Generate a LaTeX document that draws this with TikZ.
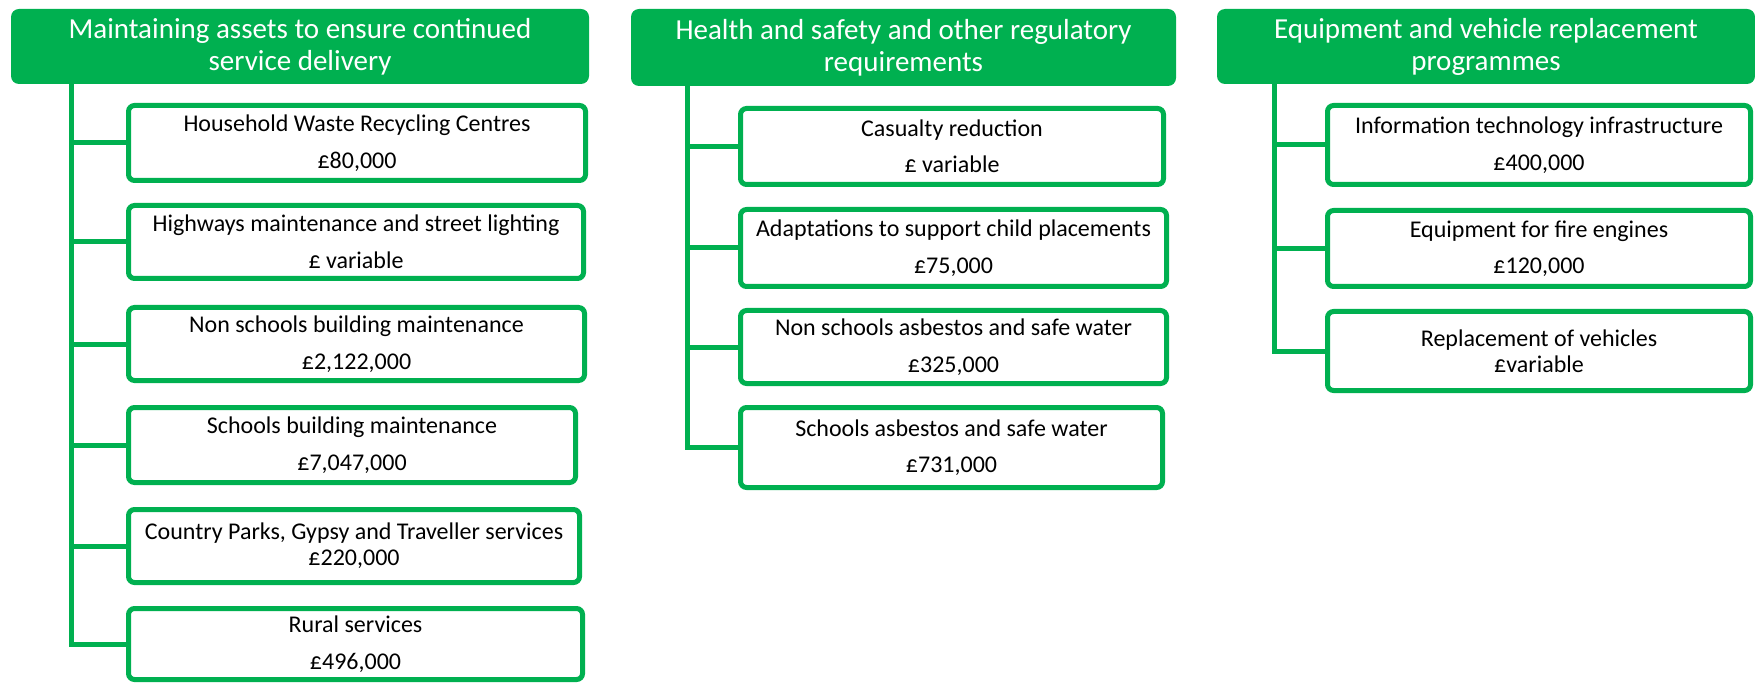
\documentclass[tikz,border=0pt]{standalone}
\usepackage{fontspec}
\setmainfont{Carlito}
\definecolor{hgreen}{HTML}{00B050}
\begin{document}
\begin{tikzpicture}[x=1pt,y=-1pt,
  head/.style={fill=hgreen, rounded corners=8pt, text=white,
    font=\fontsize{29}{32}\selectfont, align=center, inner sep=0pt},
  item/.style={draw=hgreen, line width=5pt, rounded corners=6pt, fill=white,
    font=\fontsize{24}{36.5}\selectfont, align=center, inner sep=0pt},
  tight/.style={font=\fontsize{24}{26.3}\selectfont},
  link/.style={draw=hgreen, line width=5pt}]
\useasboundingbox (0,0) rectangle (1755,684);

% ---- headers ----
\node[head, minimum width=578pt, minimum height=75pt] (h1) at (300,46.5)
  {Maintaining assets to ensure continued\\service delivery};
\node[head, minimum width=545pt, minimum height=77pt] (h2) at (903.5,47.5)
  {Health and safety and other regulatory\\requirements};
\node[head, minimum width=538pt, minimum height=75pt] (h3) at (1486,46.5)
  {Equipment and vehicle replacement\\programmes};

% ---- column 1 ----
\node[item, minimum width=457pt, minimum height=75pt] (a1) at (357,143)
  {Household Waste Recycling Centres\\£80,000};
\node[item, minimum width=455pt, minimum height=73pt] (a2) at (356,242)
  {Highways maintenance and street lighting\\£ variable};
\node[item, minimum width=456pt, minimum height=73pt] (a3) at (356.5,344)
  {Non schools building maintenance\\£2,122,000};
\node[item, minimum width=447pt, minimum height=75pt] (a4) at (352,445)
  {Schools building maintenance\\£7,047,000};
\node[item, tight, minimum width=451pt, minimum height=73pt] (a5) at (354,546)
  {Country Parks, Gypsy and Traveller services\\£220,000};
\node[item, minimum width=454pt, minimum height=71pt] (a6) at (355.5,644)
  {Rural services\\£496,000};

% ---- column 2 ----
\node[item, minimum width=423pt, minimum height=76pt] (b1) at (952,146.5)
  {Casualty reduction\\£ variable};
\node[item, minimum width=426pt, minimum height=77pt] (b2) at (953.5,248)
  {Adaptations to support child placements\\£75,000};
\node[item, minimum width=426pt, minimum height=73pt] (b3) at (953.5,347)
  {Non schools asbestos and safe water\\£325,000};
\node[item, minimum width=422pt, minimum height=80pt] (b4) at (951.5,447.5)
  {Schools asbestos and safe water\\£731,000};

% ---- column 3 ----
\node[item, minimum width=423pt, minimum height=79pt] (c1) at (1539,145)
  {Information technology infrastructure\\£400,000};
\node[item, minimum width=423pt, minimum height=76pt] (c2) at (1539,248.5)
  {Equipment for fire engines\\£120,000};
\node[item, tight, minimum width=423pt, minimum height=79pt] (c3) at (1539,351)
  {Replacement of vehicles\\£variable};

% ---- trunks and branches ----
\coordinate (t1) at (71,84);
\coordinate (t2) at (687.5,85);
\coordinate (t3) at (1274.5,84);
\draw[link] (t1) |- (a6.west);
\foreach \n in {a1,a2,a3,a4,a5} \draw[link] (\n.west) -- (\n.west -| t1);
\draw[link] (t2) |- (b4.west);
\foreach \n in {b1,b2,b3} \draw[link] (\n.west) -- (\n.west -| t2);
\draw[link] (t3) |- (c3.west);
\foreach \n in {c1,c2} \draw[link] (\n.west) -- (\n.west -| t3);
\end{tikzpicture}
\end{document}
